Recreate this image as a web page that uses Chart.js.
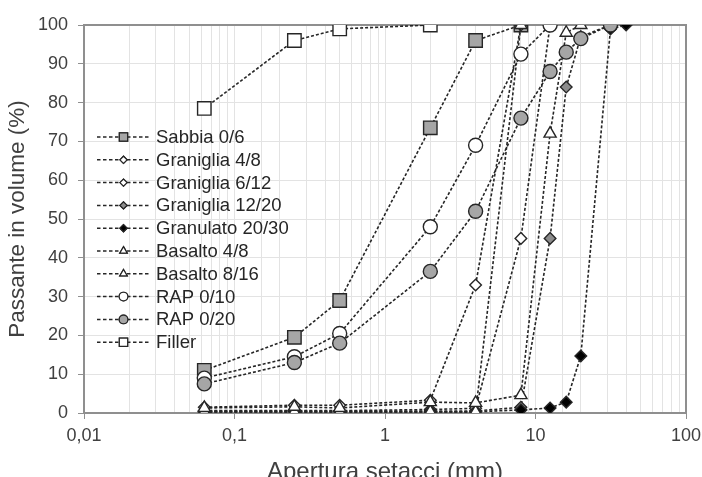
<!DOCTYPE html>
<html>
<head>
<meta charset="utf-8">
<script src="https://cdn.jsdelivr.net/npm/chart.js@4/dist/chart.umd.min.js"></script>
<style>
  html, body { margin: 0; padding: 0; background: #fff; overflow: hidden; }
  #wrap { width: 702px; height: 477px; }
</style>
</head>
<body>
<div id="wrap"><canvas id="chart" width="702" height="477"></canvas></div>
<script>
(function () {
  'use strict';

  // aperture dei setacci (mm)
  var SIEVES = [0.063, 0.25, 0.5, 2, 4, 8, 12.5, 16, 20, 31.5, 40];

  var NAMES = ['Sabbia 0/6', 'Graniglia 4/8', 'Graniglia 6/12', 'Graniglia 12/20', 'Granulato 20/30',
    'Basalto 4/8', 'Basalto 8/16', 'RAP 0/10', 'RAP 0/20', 'Filler'];

  var SABBIA_0_6 = [11, 19.5, 29, 73.5, 96, 100, null, null, null, null, null];
  var GRANIGLIA_4_8 = [1.5, 2, 2, 3.3, 33, 100, null, null, null, null, null];
  var GRANIGLIA_6_12 = [0.6, 0.6, 0.6, 0.9, 1.2, 45, 100, null, null, null, null];
  var GRANIGLIA_12_20 = [0.5, 0.5, 0.5, 0.5, 0.5, 1.5, 45, 84, 97, 100, null];
  var GRANULATO_20_30 = [0.3, 0.3, 0.3, 0.3, 0.3, 0.8, 1.3, 2.8, 14.7, 99, 100];
  var BASALTO_4_8 = [0.3, 0.3, 0.3, 0.3, 0.3, 100, null, null, null, null, null];
  var BASALTO_8_16 = [1.3, 1.6, 1.3, 2.8, 2.6, 4.6, 72, 98, 100, null, null];
  var RAP_0_10 = [9, 14.5, 20.5, 48, 69, 92.5, 100, null, null, null, null];
  var RAP_0_20 = [7.5, 13, 18, 36.5, 52, 76, 88, 93, 96.5, 100, null];
  var FILLER = [78.5, 96, 99, 100, null, null, null, null, null, null, null];

  var SERIES = [SABBIA_0_6, GRANIGLIA_4_8, GRANIGLIA_6_12, GRANIGLIA_12_20, GRANULATO_20_30,
    BASALTO_4_8, BASALTO_8_16, RAP_0_10, RAP_0_20, FILLER];

  var X_TICKS = [0.01, 0.1, 1, 10, 100];

  var GRAY = '#a6a6a6';
  var INK = '#262626';
  var MARKERS = [
    {style: 'rect', fill: GRAY, r: 9.5},
    {style: 'rectRot', fill: '#fff', r: 5.8},
    {style: 'rectRot', fill: '#fff', r: 5.8},
    {style: 'rectRot', fill: '#8c8c8c', r: 5.8},
    {style: 'rectRot', fill: '#000', r: 5.8},
    {style: 'triangle', fill: '#fff', r: 7},
    {style: 'triangle', fill: '#fff', r: 7},
    {style: 'circle', fill: '#fff', r: 7},
    {style: 'circle', fill: GRAY, r: 7},
    {style: 'rect', fill: '#fff', r: 9.5}
  ];

  var FONT = 'Liberation Sans, Arial, sans-serif';

  function points(values) {
    var out = [];
    values.forEach(function (v, i) {
      if (v !== null) out.push({x: SIEVES[i], y: v});
    });
    return out;
  }

  function isDecade(v) {
    var l = Math.log10(v);
    return Math.abs(l - Math.round(l)) < 1e-9;
  }

  var datasets = SERIES.map(function (values, i) {
    var m = MARKERS[i];
    return {
      label: NAMES[i],
      data: points(values),
      order: SERIES.length - i,
      borderColor: INK,
      borderWidth: 1.6,
      borderDash: [3, 2],
      pointStyle: m.style,
      pointRadius: m.r,
      pointBackgroundColor: m.fill,
      pointBorderColor: INK,
      pointBorderWidth: 1.4,
      fill: false,
      tension: 0
    };
  });

  var frame = {
    id: 'frame',
    beforeDatasetsDraw: function (chart) {
      var a = chart.chartArea, ctx = chart.ctx;
      ctx.save();
      ctx.strokeStyle = '#8f8f8f';
      ctx.lineWidth = 2;
      ctx.strokeRect(a.left, a.top, a.right - a.left, a.bottom - a.top);
      ctx.restore();
    }
  };

  var insideLegend = {
    id: 'insideLegend',
    afterDatasetsDraw: function (chart) {
      var ctx = chart.ctx;
      var x0 = 97, x1 = 150, y = 137, step = 22.8;
      ctx.save();
      ctx.font = '18.5px ' + FONT;
      ctx.textBaseline = 'middle';
      datasets.forEach(function (ds, i) {
        var m = MARKERS[i];
        var yy = y + i * step;
        ctx.strokeStyle = INK;
        ctx.lineWidth = 1.5;
        ctx.setLineDash([3.5, 2.5]);
        ctx.beginPath();
        ctx.moveTo(x0, yy);
        ctx.lineTo(x1, yy);
        ctx.stroke();
        ctx.setLineDash([]);
        ctx.fillStyle = m.fill;
        ctx.lineWidth = 1.2;
        Chart.helpers.drawPoint(ctx, {pointStyle: m.style, radius: m.r * 0.62, borderWidth: 1.2}, (x0 + x1) / 2, yy);
        ctx.fill();
        ctx.stroke();
        ctx.fillStyle = '#262626';
        ctx.fillText(ds.label, 156, yy + 1);
      });
      ctx.restore();
    }
  };

  new Chart(document.getElementById('chart'), {
    type: 'line',
    data: {datasets: datasets},
    options: {
      responsive: false,
      animation: false,
      layout: {padding: {top: 25, right: 16, left: 0, bottom: 0}},
      plugins: {legend: {display: false}, tooltip: {enabled: false}},
      scales: {
        x: {
          type: 'logarithmic',
          min: 0.01,
          max: 100,
          afterFit: function (s) {
            s.height = 64;
            s.paddingRight = 0;
            s.paddingLeft = 0;
          },
          grid: {
            color: '#e3e3e3',
            lineWidth: 1,
            tickLength: 6,
            tickColor: function (c) { return isDecade(c.tick.value) ? '#8f8f8f' : 'rgba(0,0,0,0)'; }
          },
          border: {display: false},
          ticks: {
            autoSkip: false,
            maxRotation: 0,
            padding: 6,
            color: '#404040',
            font: {family: FONT, size: 18},
            callback: function (v) {
              if (!isDecade(v)) return '';
              var d = Math.pow(10, Math.round(Math.log10(v)));
              return X_TICKS.indexOf(d) >= 0 ? String(d).replace('.', ',') : '';
            }
          },
          title: {
            display: true,
            text: 'Apertura setacci (mm)',
            color: '#404040',
            font: {family: FONT, size: 24},
            padding: {top: 0, bottom: -10}
          }
        },
        y: {
          min: 0,
          max: 100,
          afterFit: function (s) { s.width = 84; },
          grid: {color: '#e3e3e3', lineWidth: 1, tickLength: 6, tickColor: '#8f8f8f'},
          border: {display: false},
          ticks: {
            stepSize: 10,
            padding: 10,
            color: '#404040',
            font: {family: FONT, size: 18}
          },
          title: {
            display: true,
            text: 'Passante in volume (%)',
            color: '#404040',
            font: {family: FONT, size: 22.5},
            padding: {top: 4, bottom: 0}
          }
        }
      }
    },
    plugins: [frame, insideLegend]
  });
}());
</script>
</body>
</html>
